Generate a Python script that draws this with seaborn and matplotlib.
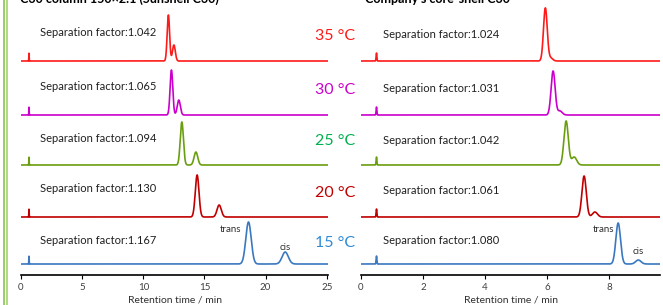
import numpy as np
import pandas as pd
import matplotlib
matplotlib.use("Agg")
import matplotlib.pyplot as plt
import seaborn as sns
from matplotlib.lines import Line2D

# ---------------- data ----------------
temps = ["35 °C", "30 °C", "25 °C", "20 °C", "15 °C"]
line_colors = ["#ff1a1a", "#cc00cc", "#6a9e10", "#c00000", "#3a78c0"]
text_colors = ["#ff1a1a", "#cc00cc", "#00b050", "#c00000", "#2e8bd6"]
baselines = [214, 160, 110, 58, 11]          # trace offsets

# left column (Sunshell)
left_sep = ["1.042", "1.065", "1.094", "1.130", "1.167"]
left_trans_rt = [12.05, 12.3, 13.15, 14.4, 18.6]
left_cis_rt = [12.5, 12.9, 14.3, 16.2, 21.6]
left_trans_h = [46, 45, 43, 42, 42]
left_cis_h = [16, 15, 13, 12, 12]
left_width = [0.10, 0.11, 0.13, 0.15, 0.22]
left_inj = 0.65

# right column (company core-shell)
right_sep = ["1.024", "1.031", "1.042", "1.061", "1.080"]
right_trans_rt = [5.95, 6.2, 6.62, 7.2, 8.3]
right_cis_rt = [6.12, 6.42, 6.88, 7.55, 8.95]
right_trans_h = [53, 44, 44, 41, 41]
right_cis_h = [3, 4, 8, 5, 4]
right_width = [0.06, 0.065, 0.07, 0.07, 0.075]
right_inj = 0.5

left_ticks = [0, 5, 10, 15, 20, 25]
right_ticks = [0, 2, 4, 6, 8]


def trace(x, rt1, h1, rt2, h2, w, inj, base):
    y = h1 * np.exp(-0.5 * ((x - rt1) / w) ** 2)
    y += h2 * np.exp(-0.5 * ((x - rt2) / (w * 1.15)) ** 2)
    y += 8 * np.exp(-0.5 * ((x - inj) / 0.012) ** 2)
    return y + base


sns.set_style("white")
plt.rcParams["font.family"] = ["Lato", "DejaVu Sans"]

W, H = 663, 305
fig = plt.figure(figsize=(W / 100, H / 100), dpi=100)


def px_axes(x0, x1):
    return fig.add_axes([x0 / W, 1 - 275 / H, (x1 - x0) / W, 275 / H])


axL = px_axes(21, 328)
axR = px_axes(361, 660)

xl = np.linspace(0, 25.1, 3000)
xr = np.linspace(0, 9.65, 3000)
rows = []
for i, t in enumerate(temps):
    yl = trace(xl, left_trans_rt[i], left_trans_h[i], left_cis_rt[i], left_cis_h[i],
               left_width[i], left_inj, baselines[i])
    yr = trace(xr, right_trans_rt[i], right_trans_h[i], right_cis_rt[i], right_cis_h[i],
               right_width[i], right_inj, baselines[i])
    rows.append(pd.DataFrame({"t": xl, "y": yl, "temp": t, "col": "L"}))
    rows.append(pd.DataFrame({"t": xr, "y": yr, "temp": t, "col": "R"}))
df = pd.concat(rows, ignore_index=True)
pal = dict(zip(temps, line_colors))

for ax, col, xmax, ticks in [(axL, "L", 25.1, left_ticks), (axR, "R", 9.65, right_ticks)]:
    sns.lineplot(data=df[df["col"] == col], x="t", y="y", hue="temp", palette=pal,
                 ax=ax, legend=False, linewidth=1.2, estimator=None, sort=False)
    ax.set_xlim(0, xmax)
    ax.set_ylim(0, 275)
    ax.set_yticks([])
    ax.set_ylabel("")
    ax.set_xticks(ticks)
    ax.tick_params(axis="x", bottom=True, top=False, direction="out", length=3,
                   width=0.8, labelsize=7, colors="black", pad=3,
                   labelcolor="#404040")
    ax.set_xlabel("Retention time / min", fontsize=7.5, labelpad=2, color="#303030")
    ax.patch.set_alpha(0)
    for s in ["top", "left", "right"]:
        ax.spines[s].set_visible(False)
    ax.spines["bottom"].set_color("black")
    ax.spines["bottom"].set_linewidth(1.2)


def ftext(xp, yp, s, **kw):
    fig.text(xp / W, 1 - yp / H, s, **kw)


sep_y = [33, 87, 139, 189, 240]
temp_y = [36, 90, 141, 193, 243]
for i in range(5):
    ftext(40, sep_y[i], "Separation factor:" + left_sep[i], fontsize=8,
          va="center", color="#202020")
    ftext(383, sep_y[i] + 1, "Separation factor:" + right_sep[i], fontsize=8,
          va="center", color="#202020")
    ftext(335, temp_y[i], temps[i], fontsize=11.5, va="center", ha="center",
          color=text_colors[i])

ftext(231, 230, "trans", fontsize=7, ha="center", va="center", color="#303030")
ftext(285, 247, "cis", fontsize=7, ha="center", va="center", color="#303030")
ftext(604, 230, "trans", fontsize=7, ha="center", va="center", color="#303030")
ftext(638, 252, "cis", fontsize=7, ha="center", va="center", color="#303030")

# titles, cut off by the top edge in the original
ftext(20, 3, "C30 column 150×2.1 (Sunshell C30)", fontsize=9, fontweight="bold",
      va="baseline", color="black")
ftext(365, 3, "Company's core-shell C30", fontsize=9, fontweight="bold",
      va="baseline", color="black")

# green frame lines at the left edge
for xp, c in [(4, "#92c85a"), (7, "#a8d878")]:
    fig.add_artist(Line2D([xp / W, xp / W], [0, 1], color=c, linewidth=1.3,
                          transform=fig.transFigure))

fig.savefig("out.png", dpi=100)
